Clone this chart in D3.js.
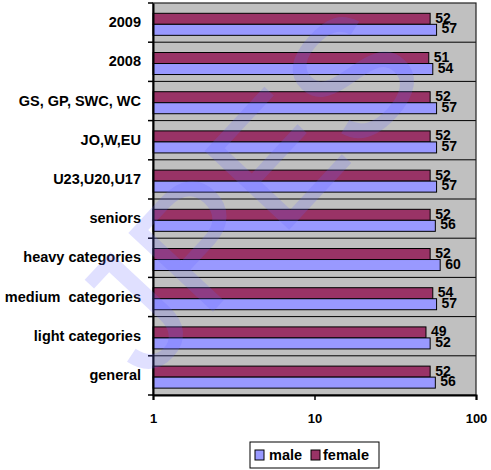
<!DOCTYPE html>
<html>
<head>
<meta charset="utf-8">
<script src="https://cdn.jsdelivr.net/npm/d3@7"></script>
<style>
  body { margin: 0; background: #fff; }
  text { font-family: Arial, "Liberation Sans", sans-serif; font-weight: bold; fill: #000; white-space: pre; }
</style>
</head>
<body>
<div id="chart"></div>
<script>
// categories from top to bottom
const categories = ["2009", "2008", "GS, GP, SWC, WC", "JO,W,EU", "U23,U20,U17",
    "seniors", "heavy categories", "medium  categories", "light categories", "general"];
const femaleValues = [52, 51, 52, 52, 52, 52, 52, 54, 49, 52];
const maleValues = [57, 54, 57, 57, 57, 56, 60, 57, 52, 56];
const xTicks = [1, 10, 100];

const width = 491, height = 470;
const margin = {top: 3, right: 15, bottom: 75, left: 153};
const plotW = width - margin.left - margin.right;
const plotH = height - margin.top - margin.bottom;

const colors = {male: "#9999FF", female: "#993366"};

const svg = d3.select("#chart").append("svg")
    .attr("width", width)
    .attr("height", height);

const g = svg.append("g")
    .attr("transform", `translate(${margin.left},${margin.top})`);

const x = d3.scaleLog().domain([1, 100]).range([0, plotW]);
const y = d3.scaleBand().domain(categories).range([0, plotH]);
const sub = d3.scaleBand().domain(["female", "male"])
    .range([0, y.bandwidth()])
    .paddingOuter(0.78)
    .align(0.6);

// plot background
g.append("rect")
    .attr("width", plotW)
    .attr("height", plotH)
    .attr("fill", "#C0C0C0");

// horizontal grid lines between categories
g.selectAll(".grid")
    .data(categories.slice(1))
    .enter().append("line")
    .attr("x1", 0).attr("x2", plotW)
    .attr("y1", d => y(d)).attr("y2", d => y(d))
    .attr("stroke", "#000").attr("stroke-width", 1);

const rows = categories.map((c, i) => ({cat: c, female: femaleValues[i], male: maleValues[i]}));

const groups = g.selectAll(".row")
    .data(rows)
    .enter().append("g")
    .attr("transform", d => `translate(0,${y(d.cat)})`);

// label baseline shift, a bit above the bar bottom
const labelShift = {female: 1.5, male: 2};

["female", "male"].forEach(key => {
    groups.append("rect")
        .attr("x", 0)
        .attr("y", sub(key))
        .attr("width", d => x(d[key]))
        .attr("height", sub.bandwidth())
        .attr("fill", colors[key])
        .attr("stroke", "#000")
        .attr("stroke-width", 1);

    groups.append("text")
        .attr("x", d => x(d[key]) + 5)
        .attr("y", sub(key) + sub.bandwidth() - labelShift[key])
        .style("font-size", "14px")
        .text(d => d[key]);
});

// plot border
g.append("rect")
    .attr("width", plotW)
    .attr("height", plotH)
    .attr("fill", "none")
    .attr("stroke", "#222")
    .attr("stroke-width", 1.2);

// left axis
const yAxis = g.append("g")
    .call(d3.axisLeft(y).tickSize(0).tickPadding(12));
yAxis.select(".domain").attr("stroke", "#000").attr("stroke-width", 2);
yAxis.selectAll("text").style("font-size", "14.5px");
// category boundary tick marks
g.selectAll(".ytick")
    .data(d3.range(categories.length + 1))
    .enter().append("line")
    .attr("x1", -5).attr("x2", 0)
    .attr("y1", i => i * y.step()).attr("y2", i => i * y.step())
    .attr("stroke", "#000").attr("stroke-width", 1.5);

// bottom axis
const xAxis = g.append("g")
    .attr("transform", `translate(0,${plotH})`)
    .call(d3.axisBottom(x).tickValues(xTicks).tickFormat(d3.format("d")).tickSize(5).tickPadding(14));
xAxis.select(".domain").attr("stroke", "#000").attr("stroke-width", 2);
xAxis.selectAll(".tick line").attr("stroke", "#000").attr("stroke-width", 1.5);
xAxis.selectAll("text").style("font-size", "13px");

// watermark
svg.append("text")
    .attr("transform", "translate(247,190) rotate(-47)")
    .attr("text-anchor", "middle")
    .attr("dominant-baseline", "central")
    .style("font-size", "168px")
    .style("font-weight", "normal")
    .style("fill", "#6666ff")
    .style("fill-opacity", 0.2)
    .text("JPES");

// legend
const legend = svg.append("g").attr("transform", "translate(250,442)");
legend.append("rect")
    .attr("width", 129).attr("height", 26)
    .attr("fill", "#fff").attr("stroke", "#000").attr("stroke-width", 1);
const items = [{key: "male", x: 5, tx: 19}, {key: "female", x: 61, tx: 73}];
items.forEach(it => {
    legend.append("rect")
        .attr("x", it.x).attr("y", 8)
        .attr("width", 9).attr("height", 10)
        .attr("fill", colors[it.key]).attr("stroke", "#000").attr("stroke-width", 1);
    legend.append("text")
        .attr("x", it.tx).attr("y", 18)
        .style("font-size", "14.5px")
        .text(it.key);
});
</script>
</body>
</html>
